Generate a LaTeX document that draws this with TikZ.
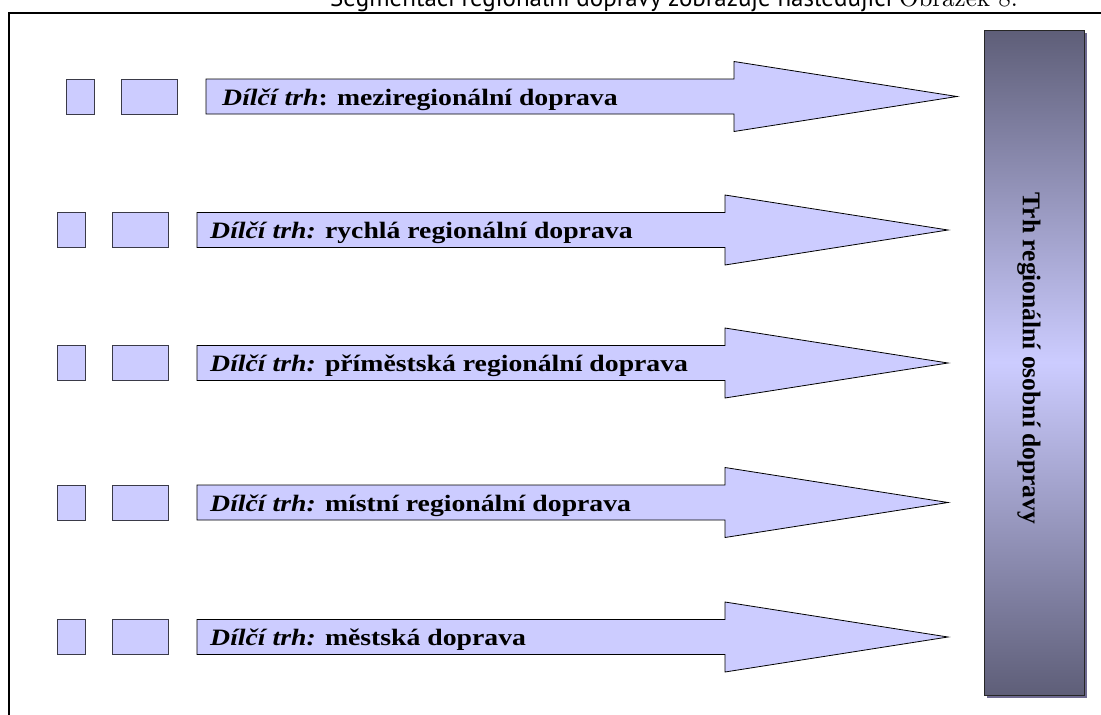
\documentclass[tikz,border=0pt]{standalone}
\usepackage{fontspec}
\setmainfont{Liberation Serif}
\newfontfamily\headfont{PT Sans}
\newfontfamily\lmfont{lmroman10-regular.otf}
\definecolor{lav}{HTML}{CCCCFF}
\definecolor{bardark}{HTML}{5E5E78}
\definecolor{barshadow}{HTML}{6E6A90}
\definecolor{boxedge}{HTML}{3A3A48}
% dark at both ends, light lavender in the middle (TikZ maps 25bp..75bp onto the path)
\pgfdeclareverticalshading{barshade}{100bp}{color(0bp)=(bardark); color(25bp)=(bardark);
  color(50bp)=(lav); color(75bp)=(bardark); color(100bp)=(bardark)}
\begin{document}
\begin{tikzpicture}[x=1pt,y=-1pt,
  sqbox/.style={draw=boxedge, line width=1pt, fill=lav},
  bigarrow/.style={draw=black, line width=0.8pt, fill=lav, line join=miter},
  lbl/.style={anchor=base west, inner sep=0pt, xscale=1.18,
    font=\fontsize{23.5}{27}\selectfont\bfseries}]
\clip (0,0) rectangle (1101,715);
\fill[white] (0,0) rectangle (1101,715);

% heading sentence above the frame
\node[anchor=base west, inner sep=0pt] (heading) at (330,6)
  {\headfont\fontsize{25}{30}\selectfont Segmentaci regionální dopravy zobrazuje následující {\lmfont Obrázek 8.}};

% frame
\draw[line width=2pt] (9,740) -- (9,13) -- (1110,13);

% rows: index / centre y / x offset / text x / label
\foreach \i/\c/\d/\tx/\txt in {
  1/96.5/9/222/{{\itshape Dílčí trh}: meziregionální doprava},
  2/230/0/210/{{\itshape Dílčí trh:} rychlá regionální doprava},
  3/363/0/210/{{\itshape Dílčí trh:} příměstská regionální doprava},
  4/502.5/0/210/{{\itshape Dílčí trh:} místní regionální doprava},
  5/637/0/210/{{\itshape Dílčí trh:} městská doprava}}{
  \draw[sqbox] (57+\d,\c-17.5) rectangle (85+\d,\c+17.5);
  \draw[sqbox] (112+\d,\c-17.5) rectangle (168+\d,\c+17.5);
  \filldraw[bigarrow] (197+\d,\c-17.5) -- (725+\d,\c-17.5) -- (725+\d,\c-35)
     -- (948+\d,\c) -- (725+\d,\c+35) -- (725+\d,\c+17.5) -- (197+\d,\c+17.5) -- cycle;
  \node[lbl] (lab\i) at (\tx,\c+8.5) {\txt};
}

% market bar on the right
\fill[barshadow] (987,33) rectangle (1087,698);
\node[draw=black!85, line width=0.8pt, minimum width=100pt, minimum height=665pt,
  inner sep=0pt, shading=barshade]
  (bar) at (1034,362.5) {};
\node[rotate=-90, inner sep=0pt, font=\fontsize{25.5}{30}\selectfont\bfseries]
  (bartitle) at (1029,358.5) {Trh regionální osobní dopravy};
\end{tikzpicture}
\end{document}
